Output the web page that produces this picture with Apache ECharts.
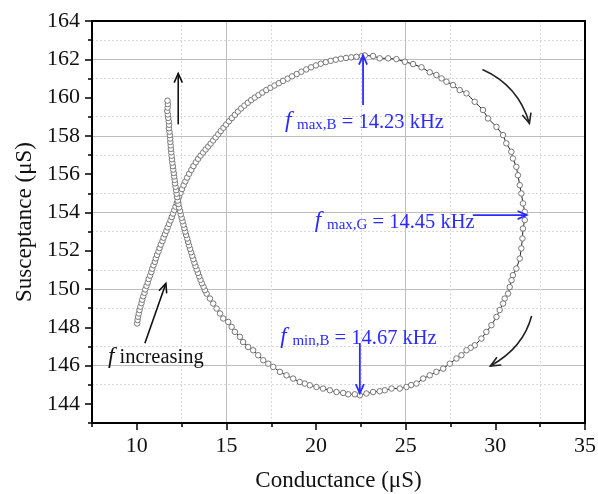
<!DOCTYPE html>
<html>
<head>
<meta charset="utf-8">
<script src="https://cdn.jsdelivr.net/npm/echarts@6/dist/echarts.min.js"></script>
<style>html,body{margin:0;padding:0;background:#fff}#c{width:598px;height:494px}</style>
</head>
<body>
<div id="c"></div>
<script>
// ---- data ----
const conductance = [
10.02,10.04,10.07,10.11,10.15,10.20,10.26,10.30,10.36,10.43,10.47,10.54,10.61,10.66,10.74,10.81,10.86,10.93,11.01,11.06,11.13,11.21,11.27,11.34,11.43,11.49,11.57,11.65,11.72,11.80,11.88,11.95,12.02,12.09,12.16,12.23,12.30,
12.36,12.44,12.52,12.61,12.71,12.81,12.92,13.04,13.16,13.29,13.42,13.56,13.70,13.84,13.98,14.12,14.26,14.40,14.54,14.68,14.83,14.98,15.14,15.30,15.47,15.64,15.82,16.00,16.19,16.38,16.58,16.79,17.00,17.22,17.45,17.68,17.92,18.16,18.41,18.66,18.92,19.18,19.45,19.72,19.99,20.26,20.54,20.82,21.10,21.38,21.67,21.96,22.25,22.55,
22.72,23.18,23.55,24.02,24.48,24.95,25.41,25.88,26.34,26.71,27.00,27.27,27.64,28.01,28.39,28.85,29.31,29.59,30.06,30.43,30.61,30.89,30.98,31.17,31.26,31.36,31.45,31.54,31.64,31.64,31.54,31.51,31.45,31.36,31.17,30.98,30.90,30.80,30.71,30.52,30.43,30.24,30.06,29.78,29.50,29.22,28.85,28.62,28.39,28.11,27.83,27.46,27.09,26.71,26.34,25.97,25.60,25.30,25.04,24.67,24.21,23.83,23.55,23.18,22.81,22.44,22.16,21.79,21.51,21.14,20.77,20.39,20.02,19.65,19.37,19.09,18.72,18.35,17.98,17.61,17.33,17.05,16.77,16.49,16.21,15.93,15.75,15.47,15.29,15.10,14.82,14.64,14.45,14.26,14.08,13.89,
13.80,13.72,13.63,13.55,13.48,13.41,13.34,13.27,13.21,13.15,13.09,13.03,12.97,12.91,12.86,12.81,12.75,12.70,12.65,12.60,12.55,12.50,12.45,12.41,12.36,12.32,12.28,
12.25,12.22,12.19,12.16,12.13,12.11,12.08,12.06,12.03,12.01,11.98,11.96,11.94,11.92,11.90,11.89,11.87,11.86,11.84,11.82,11.79,11.80,11.78,11.75,11.73,11.70,11.72,11.73,11.71
];
const susceptance = [
148.20,148.38,148.55,148.72,148.90,149.08,149.26,149.44,149.62,149.80,149.98,150.16,150.34,150.52,150.70,150.88,151.06,151.24,151.42,151.60,151.78,151.96,152.14,152.32,152.50,152.68,152.86,153.04,153.22,153.40,153.58,153.76,153.94,154.12,154.30,154.48,154.66,
154.82,155.02,155.22,155.42,155.62,155.82,156.02,156.22,156.42,156.62,156.80,156.97,157.13,157.29,157.44,157.60,157.76,157.92,158.08,158.25,158.42,158.59,158.76,158.93,159.10,159.27,159.43,159.58,159.73,159.87,160.00,160.13,160.26,160.39,160.51,160.63,160.75,160.87,160.99,161.11,161.23,161.35,161.47,161.58,161.68,161.77,161.85,161.92,161.98,162.03,162.07,162.10,162.13,162.17,
162.20,162.17,162.05,162.05,162.01,161.87,161.75,161.58,161.32,161.18,161.00,160.83,160.65,160.39,160.22,159.78,159.35,158.91,158.47,158.04,157.61,157.17,156.82,156.38,155.94,155.42,154.99,154.47,154.03,153.60,153.16,152.64,152.12,151.59,151.07,150.72,150.46,150.10,149.76,149.50,149.24,148.90,148.54,148.11,147.76,147.41,147.06,146.93,146.80,146.54,146.37,146.10,145.84,145.67,145.49,145.32,145.06,144.98,144.88,144.80,144.80,144.71,144.66,144.62,144.54,144.45,144.50,144.50,144.57,144.62,144.71,144.80,144.88,144.97,145.06,145.14,145.32,145.49,145.67,145.93,146.10,146.28,146.54,146.80,146.97,147.23,147.50,147.76,148.02,148.28,148.46,148.72,148.98,149.24,149.50,149.76,
149.94,150.12,150.30,150.48,150.66,150.84,151.02,151.20,151.38,151.56,151.74,151.92,152.10,152.28,152.46,152.64,152.82,153.00,153.18,153.36,153.54,153.72,153.90,154.08,154.26,154.44,154.62,
154.80,154.98,155.16,155.34,155.52,155.70,155.88,156.06,156.24,156.42,156.60,156.78,156.96,157.14,157.32,157.50,157.68,157.86,158.04,158.22,158.40,158.58,158.76,158.94,159.12,159.30,159.48,159.66,159.84
];
const xTickLabels = [10, 15, 20, 25, 30, 35];
const yTickLabels = [144, 146, 148, 150, 152, 154, 156, 158, 160, 162, 164];

// ---- chart ----
const FONT = "'Liberation Serif', 'Times New Roman', serif";
const points = conductance.map((g, i) => [g, susceptance[i]]);
const chart = echarts.init(document.getElementById('c'), null, {renderer: 'canvas'});

const hidden = 'rgba(0,0,0,0)';
const MAJ = '#bdbdbd', MIN = '#d9d9d9';

chart.setOption({
  animation: false,
  backgroundColor: '#fff',
  grid: {left: 92, right: 13, top: 21, bottom: 71, containLabel: false, outerBoundsMode: 'none'},
  xAxis: [
    {type: 'value', min: 7.5, max: 35, interval: 2.5, position: 'bottom',
     axisLine: {onZero: false, lineStyle: {color: '#000', width: 2}},
     axisTick: {show: true, length: 7, customValues: xTickLabels, lineStyle: {color: '#000', width: 1.5}},
     axisLabel: {customValues: xTickLabels, formatter: v => (v % 5 === 0 ? String(v) : ''), fontSize: 22, fontFamily: FONT, color: '#111', margin: 12},
     splitLine: {show: true, lineStyle: {color: [hidden, MAJ], width: 1}},
     name: 'Conductance (μS)', nameLocation: 'middle', nameGap: 46,
     nameTextStyle: {fontSize: 23, fontFamily: FONT, color: '#111'}},
    {type: 'value', min: 7.5, max: 35, interval: 2.5, position: 'bottom',
     axisLine: {show: false, onZero: false},
     axisTick: {show: true, length: 4, lineStyle: {color: '#000', width: 1.5}},
     axisLabel: {show: false},
     splitLine: {show: true, lineStyle: {color: [MIN, hidden], width: 1, type: [2, 2]}}},
    {type: 'value', min: 7.5, max: 35, position: 'top',
     axisLine: {show: true, onZero: false, lineStyle: {color: '#000', width: 2}},
     axisTick: {show: false}, axisLabel: {show: false}, splitLine: {show: false}}
  ],
  yAxis: [
    {type: 'value', min: 143, max: 164, interval: 1, position: 'left',
     axisLine: {show: true, onZero: false, lineStyle: {color: '#000', width: 2}},
     axisTick: {show: true, length: 7, customValues: yTickLabels, lineStyle: {color: '#000', width: 1.5}},
     axisLabel: {customValues: yTickLabels, formatter: v => (v % 2 === 0 ? String(v) : ''), fontSize: 22, fontFamily: FONT, color: '#111', margin: 12},
     splitLine: {show: true, lineStyle: {color: [hidden, MAJ], width: 1}},
     name: 'Susceptance (μS)', nameLocation: 'middle', nameGap: 55,
     nameTextStyle: {fontSize: 23, fontFamily: FONT, color: '#111'}},
    {type: 'value', min: 143, max: 164, interval: 1, position: 'left',
     axisLine: {show: false, onZero: false},
     axisTick: {show: true, length: 4, lineStyle: {color: '#000', width: 1.5}},
     axisLabel: {show: false},
     splitLine: {show: true, lineStyle: {color: [MIN, hidden], width: 1, type: [2, 2]}}},
    {type: 'value', min: 143, max: 164, position: 'right',
     axisLine: {show: true, onZero: false, lineStyle: {color: '#000', width: 2}},
     axisTick: {show: false}, axisLabel: {show: false}, splitLine: {show: false}}
  ],
  series: [{
    type: 'line', xAxisIndex: 0, yAxisIndex: 0, data: points,
    showAllSymbol: true, symbol: 'circle', symbolSize: 5.5,
    itemStyle: {color: '#fff', borderColor: '#777', borderWidth: 1},
    lineStyle: {color: '#222', width: 1},
    z: 5
  }]
});

// ---- annotations (anchored in data coordinates) ----
const P = d => chart.convertToPixel({xAxisIndex: 0, yAxisIndex: 0}, d);
function head(tip, from, color, len, w) {
  const dx = tip[0] - from[0], dy = tip[1] - from[1];
  const L = Math.hypot(dx, dy), ux = dx / L, uy = dy / L, a = 0.42;
  const c = Math.cos(a), s = Math.sin(a);
  const p1 = [tip[0] - len * (ux * c - uy * s), tip[1] - len * (uy * c + ux * s)];
  const p2 = [tip[0] - len * (ux * c + uy * s), tip[1] - len * (uy * c - ux * s)];
  return {type: 'polyline', z: 20, shape: {points: [p1, tip, p2]}, style: {stroke: color, lineWidth: w, fill: null}};
}
function arrow(fromD, toD, color, w) {
  const a = P(fromD), b = P(toD);
  return [
    {type: 'line', z: 20, shape: {x1: a[0], y1: a[1], x2: b[0], y2: b[1]}, style: {stroke: color, lineWidth: w}},
    head(b, a, color, 10, w)
  ];
}
function curved(sD, cD, eD, color, w) {
  const s = P(sD), c = P(cD), e = P(eD);
  return [
    {type: 'bezierCurve', z: 20, shape: {x1: s[0], y1: s[1], x2: e[0], y2: e[1], cpx1: c[0], cpy1: c[1]}, style: {stroke: color, lineWidth: w, fill: null}},
    head(e, c, color, 11, w)
  ];
}
const BLUE = '#2b2bff';
function label(d, text, color) {
  const p = P(d);
  return {type: 'text', z: 21, x: p[0], y: p[1], style: {
    text: text, align: 'left', verticalAlign: 'middle', fill: color,
    rich: {
      i: {fontSize: 23, fontFamily: FONT, fontStyle: 'italic', fill: color, lineHeight: 22, verticalAlign: 'bottom'},
      s: {fontSize: 15, fontFamily: FONT, fill: color, lineHeight: 15, verticalAlign: 'bottom'},
      n: {fontSize: 20.5, fontFamily: FONT, fill: color, lineHeight: 22, verticalAlign: 'bottom'}
    }
  }};
}

const graphics = [].concat(
  arrow([12.31, 158.6], [12.31, 161.26], '#111', 1.6),
  arrow([10.45, 147.17], [11.62, 150.29], '#111', 1.6),
  curved([29.28, 161.47], [31.29, 160.63], [31.9, 158.65], '#222', 1.6),
  curved([32.02, 148.59], [31.56, 146.93], [29.72, 145.98], '#222', 1.6),
  arrow([22.62, 159.61], [22.62, 162.2], BLUE, 1.8),
  arrow([28.74, 153.86], [31.75, 153.86], BLUE, 1.8),
  arrow([22.44, 147.17], [22.44, 144.55], BLUE, 1.8),
  [
    label([18.26, 158.73], '{i|f }{s|max,B}{n| = 14.23 kHz}', BLUE),
    label([19.93, 153.52], '{i|f }{s|max,G}{n| = 14.45 kHz}', BLUE),
    label([18.0, 147.46], '{i|f }{s|min,B}{n| = 14.67 kHz}', BLUE),
    label([8.39, 146.45], '{i|f}{n| increasing}', '#111')
  ]
);
chart.setOption({graphic: graphics});
</script>
</body>
</html>
